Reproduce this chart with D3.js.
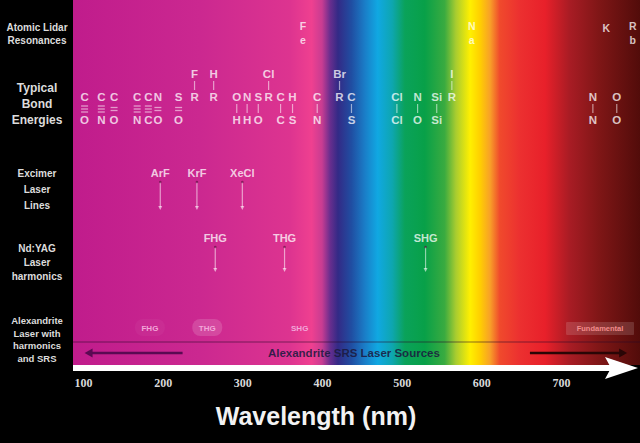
<!DOCTYPE html>
<html>
<head>
<meta charset="utf-8">
<script src="https://cdn.jsdelivr.net/npm/d3@7"></script>
<style>
  body { margin: 0; background: #000; }
  svg { display: block; }
</style>
</head>
<body>
<svg id="chart" width="640" height="443"></svg>
<script>
const tickValues = [100, 200, 300, 400, 500, 600, 700];

// colour of the spectrum band at a given wavelength
const spectrumNm = [89, 247, 360, 387, 400, 410, 420, 437, 454, 470, 488, 504, 529, 554, 568, 586, 598, 611, 623, 648, 680, 711, 749, 799];
const spectrumColors = ['#c01c8c', '#cb2890', '#dd3490', '#ef4090', '#c83c92', '#6a2e8e', '#332a86', '#204ea2',
  '#1a7ec8', '#10a8e2', '#0ea6b0', '#0aa25a', '#08a048', '#3aab40', '#a8cc30', '#fff000', '#ffd000', '#f8a028',
  '#f04a2c', '#ec3030', '#e8202a', '#a81c24', '#7e1616', '#520c0a'];

const rowLabels = [
  ['Atomic Lidar', 'Resonances'],
  ['Typical', 'Bond', 'Energies'],
  ['Excimer', 'Laser', 'Lines'],
  ['Nd:YAG', 'Laser', 'harmonics'],
  ['Alexandrite', 'Laser with', 'harmonics', 'and SRS'],
];

const lidarElements = ['Fe', 'Na', 'K', 'Rb'];
const lidarNm = [376, 588, 757, 790];

const bonds = [
  { nm: 102, top: 'C', bottom: 'O', order: 3 },
  { nm: 123, top: 'C', bottom: 'N', order: 3 },
  { nm: 139, top: 'C', bottom: 'O', order: 2 },
  { nm: 168, top: 'C', bottom: 'N', order: 3 },
  { nm: 182, top: 'C', bottom: 'C', order: 3 },
  { nm: 194, top: 'N', bottom: 'O', order: 2 },
  { nm: 220, top: 'S', bottom: 'O', order: 2 },
  { nm: 240, top: 'R', upper: 'F' },
  { nm: 264, top: 'R', upper: 'H' },
  { nm: 293, top: 'O', bottom: 'H', order: 1 },
  { nm: 306, top: 'N', bottom: 'H', order: 1 },
  { nm: 320, top: 'S', bottom: 'O', order: 1 },
  { nm: 333, top: 'R', upper: 'Cl' },
  { nm: 348, top: 'C', bottom: 'C', order: 1 },
  { nm: 363, top: 'H', bottom: 'S', order: 1 },
  { nm: 394, top: 'C', bottom: 'N', order: 1 },
  { nm: 422, top: 'R', upper: 'Br' },
  { nm: 437, top: 'C', bottom: 'S', order: 1 },
  { nm: 494, top: 'Cl', bottom: 'Cl', order: 1 },
  { nm: 520, top: 'N', bottom: 'O', order: 1 },
  { nm: 544, top: 'Si', bottom: 'Si', order: 1 },
  { nm: 563, top: 'R', upper: 'I' },
  { nm: 740, top: 'N', bottom: 'N', order: 1 },
  { nm: 770, top: 'O', bottom: 'O', order: 1 },
];

const excimerLines = ['ArF', 'KrF', 'XeCl'];
const excimerNm = [197, 243, 300];

const yagLines = ['FHG', 'THG', 'SHG'];
const yagNm = [266, 353, 530];

const alexLines = ['FHG', 'THG', 'SHG', 'Fundamental'];
const alexNm = [184, 256, 372, 749];

const srsLabel = 'Alexandrite SRS Laser Sources';
const srsLabelNm = 440;
const srsArrowNm = [[225, 102], [661, 783]];

const axisTitle = 'Wavelength (nm)';

const SANS = '"Liberation Sans", Arial, sans-serif';
const SERIF = '"Liberation Serif", "Times New Roman", serif';
const width = 640;
const bandLeft = 73;
const bandBottom = 365;

const svg = d3.select('#chart');
const x = d3.scaleLinear().domain([100, 700]).range([83, 561]);

svg.append('rect').attr('width', width).attr('height', 443).attr('fill', '#000');

const grad = svg.append('defs')
  .append('linearGradient')
  .attr('id', 'spectrum')
  .attr('x1', 0).attr('x2', 1).attr('y1', 0).attr('y2', 0);

grad.selectAll('stop')
  .data(spectrumNm)
  .enter()
  .append('stop')
  .attr('offset', nm => Math.max(0, Math.min(1, (x(nm) - bandLeft) / (width - bandLeft))))
  .attr('stop-color', (nm, i) => spectrumColors[i]);

svg.append('rect')
  .attr('x', bandLeft).attr('y', 0)
  .attr('width', width - bandLeft).attr('height', bandBottom)
  .attr('fill', 'url(#spectrum)');

// row titles in the black column
const rowY = [[31, 44], [92, 108, 124], [177, 193, 209], [252, 266, 280], [324, 337, 349, 362]];
const rowSize = [10, 12, 10, 10, 9.5];

rowLabels.forEach((lines, r) => {
  svg.append('g')
    .selectAll('text')
    .data(lines)
    .enter()
    .append('text')
    .attr('x', 37)
    .attr('y', (d, i) => rowY[r][i])
    .attr('text-anchor', 'middle')
    .attr('font-family', SANS)
    .attr('font-weight', 'bold')
    .attr('font-size', rowSize[r])
    .attr('fill', '#dcdcdc')
    .text(d => d);
});

const labelStyle = g => g
  .attr('font-family', SANS)
  .attr('font-weight', 'bold')
  .attr('text-anchor', 'middle')
  .attr('fill', '#fff')
  .attr('fill-opacity', 0.75);

// atomic lidar resonances, letters stacked
const lidarG = svg.append('g').call(labelStyle).attr('font-size', 10.5);
lidarElements.forEach((el, i) => {
  el.split('').forEach((ch, j) => {
    lidarG.append('text')
      .attr('x', x(lidarNm[i]))
      .attr('y', (el.length === 1 ? 32 : 30) + j * 14)
      .text(ch);
  });
});

// bond energies
const bondG = svg.append('g').call(labelStyle).attr('font-size', 11.5);
const bondStroke = 'rgba(255,255,255,0.55)';

bonds.forEach(b => {
  const cx = x(b.nm);
  bondG.append('text').attr('x', cx).attr('y', 101).text(b.top);

  if (b.upper) {
    bondG.append('text').attr('x', cx).attr('y', 78).text(b.upper);
    bondG.append('line')
      .attr('x1', cx).attr('x2', cx).attr('y1', 81).attr('y2', 90)
      .attr('stroke', bondStroke).attr('stroke-width', 1.2);
  }

  if (b.bottom) {
    bondG.append('text').attr('x', cx).attr('y', 124).text(b.bottom);
    if (b.order === 1) {
      bondG.append('line')
        .attr('x1', cx).attr('x2', cx).attr('y1', 104).attr('y2', 113)
        .attr('stroke', bondStroke).attr('stroke-width', 1.2);
    } else {
      const start = 109 - (b.order - 1) * 1.5;
      for (let k = 0; k < b.order; k++) {
        bondG.append('line')
          .attr('x1', cx - 3.5).attr('x2', cx + 3.5)
          .attr('y1', start + k * 3).attr('y2', start + k * 3)
          .attr('stroke', bondStroke).attr('stroke-width', 1.3);
      }
    }
  }
});

// laser lines with small down arrows
function laserRow(names, nms, labelY, top, bottom) {
  const g = svg.append('g');
  const idx = d3.range(names.length);

  g.selectAll('text')
    .data(idx)
    .enter()
    .append('text')
    .call(labelStyle)
    .attr('font-size', 11)
    .attr('x', i => x(nms[i]))
    .attr('y', labelY)
    .text(i => names[i]);

  g.selectAll('line')
    .data(idx)
    .enter()
    .append('line')
    .attr('x1', i => x(nms[i])).attr('x2', i => x(nms[i]))
    .attr('y1', top).attr('y2', bottom - 3)
    .attr('stroke', 'rgba(255,255,255,0.55)')
    .attr('stroke-width', 1.2);

  g.selectAll('path')
    .data(idx)
    .enter()
    .append('path')
    .attr('d', i => {
      const cx = x(nms[i]);
      return `M${cx - 2},${bottom - 4}L${cx + 2},${bottom - 4}L${cx},${bottom}Z`;
    })
    .attr('fill', 'rgba(255,255,255,0.6)');

  g.selectAll('circle')
    .data(idx)
    .enter()
    .append('circle')
    .attr('cx', i => x(nms[i]))
    .attr('cy', top)
    .attr('r', 1.3)
    .attr('fill', 'rgba(90,10,60,0.6)');
}

laserRow(excimerLines, excimerNm, 177, 182, 210);
laserRow(yagLines, yagNm, 242, 247, 272);

// alexandrite harmonics
const pillOpacity = [0.04, 0.15, 0, 0.14];
const alexG = svg.append('g');
alexLines.forEach((name, i) => {
  const cx = x(alexNm[i]);
  const isFund = name === 'Fundamental';
  const w = isFund ? 68 : 30;
  if (pillOpacity[i] > 0) {
    alexG.append('rect')
      .attr('x', cx - w / 2).attr('y', isFund ? 322 : 319)
      .attr('width', w).attr('height', isFund ? 13 : 17)
      .attr('rx', isFund ? 1 : 8)
      .attr('fill', '#fff')
      .attr('fill-opacity', pillOpacity[i]);
  }
  alexG.append('text')
    .attr('x', cx).attr('y', 331)
    .attr('text-anchor', 'middle')
    .attr('font-family', SANS)
    .attr('font-weight', 'bold')
    .attr('font-size', isFund ? 7.5 : 8)
    .attr('fill', isFund ? '#f08a8a' : '#f2a6d8')
    .text(name);
});

svg.append('line')
  .attr('x1', bandLeft).attr('x2', width)
  .attr('y1', 342).attr('y2', 342)
  .attr('stroke', 'rgba(40,10,40,0.55)')
  .attr('stroke-width', 1);

const srsColors = ['#5a0a52', '#2a0606'];
srsArrowNm.forEach(([from, to], i) => {
  const x1 = x(from);
  const x2 = x(to);
  const dir = Math.sign(x2 - x1);
  svg.append('line')
    .attr('x1', x1).attr('x2', x2 - dir * 6)
    .attr('y1', 353).attr('y2', 353)
    .attr('stroke', srsColors[i])
    .attr('stroke-width', 2.6);
  svg.append('path')
    .attr('d', `M${x2},353L${x2 - dir * 8},348.5L${x2 - dir * 8},357.5Z`)
    .attr('fill', srsColors[i]);
});

svg.append('text')
  .attr('x', x(srsLabelNm)).attr('y', 357)
  .attr('text-anchor', 'middle')
  .attr('font-family', SANS)
  .attr('font-weight', 'bold')
  .attr('font-size', 11.5)
  .attr('fill', '#1c1a40')
  .attr('fill-opacity', 0.88)
  .text(srsLabel);

// white axis arrow
svg.append('line')
  .attr('x1', bandLeft).attr('x2', 612)
  .attr('y1', 368).attr('y2', 368)
  .attr('stroke', '#fff')
  .attr('stroke-width', 6);
svg.append('path')
  .attr('d', 'M605,357L638,368L605,379L611,368Z')
  .attr('fill', '#fff');

const axis = svg.append('g')
  .attr('transform', 'translate(0,378.5)')
  .call(d3.axisBottom(x).tickValues(tickValues).tickSize(0).tickPadding(0).tickFormat(d3.format('d')));

axis.select('.domain').remove();
axis.selectAll('text')
  .attr('font-family', SERIF)
  .attr('font-weight', 'bold')
  .attr('font-size', 12)
  .attr('fill', '#d8d8d8');

svg.append('text')
  .attr('x', 316).attr('y', 425)
  .attr('text-anchor', 'middle')
  .attr('font-family', SANS)
  .attr('font-weight', 'bold')
  .attr('font-size', 25)
  .attr('fill', '#f2f2f2')
  .text(axisTitle);
</script>
</body>
</html>
